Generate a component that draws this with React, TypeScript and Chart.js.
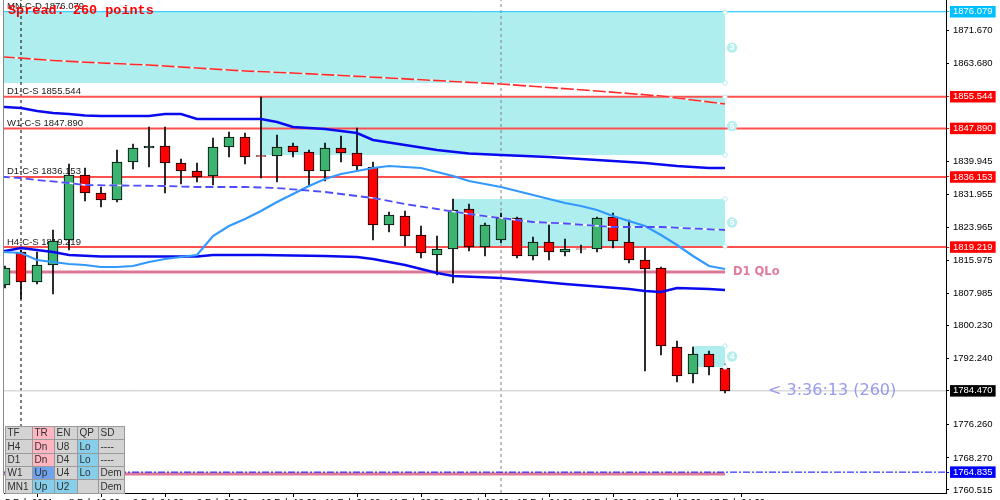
import { useEffect, useRef } from 'react';
import { Chart, registerables } from 'chart.js';

Chart.register(...registerables);

// ---------------- data ----------------
// H4 candles, x = candle index
const opens = [1810.05, 1818.03, 1810.78, 1814.88, 1820.93, 1836.63, 1832.28, 1830.59, 1839.77, 1843.16, 1843.64, 1839.53, 1837.60, 1836.39, 1843.40, 1845.81, 1841.30, 1841.22, 1843.64, 1842.19, 1837.60, 1843.16, 1841.95, 1838.57, 1824.55, 1826.73, 1822.13, 1817.30, 1818.75, 1828.42, 1819.23, 1820.93, 1826.24, 1817.06, 1820.44, 1818.03, 1818.80, 1818.75, 1826.48, 1820.44, 1816.09, 1814.16, 1795.07, 1788.55, 1793.38, 1789.99];
const highs = [1814.64, 1818.51, 1818.03, 1823.34, 1839.29, 1838.32, 1833.73, 1842.67, 1844.12, 1848.23, 1848.23, 1840.50, 1839.53, 1845.57, 1847.02, 1846.78, 1855.48, 1846.30, 1844.36, 1842.67, 1844.36, 1846.06, 1847.99, 1839.77, 1827.69, 1827.93, 1824.31, 1821.89, 1830.83, 1829.62, 1825.03, 1827.45, 1826.48, 1821.65, 1824.55, 1821.17, 1819.72, 1826.48, 1827.45, 1825.76, 1818.99, 1814.40, 1796.52, 1795.07, 1794.10, 1790.96];
const lows = [1809.33, 1806.67, 1810.29, 1807.88, 1818.51, 1830.35, 1828.90, 1830.11, 1838.08, 1838.57, 1832.28, 1834.46, 1834.94, 1834.21, 1840.98, 1839.29, 1835.91, 1834.94, 1840.98, 1834.21, 1835.18, 1839.77, 1837.84, 1820.93, 1822.86, 1819.47, 1816.58, 1812.47, 1810.53, 1818.27, 1817.06, 1820.20, 1816.58, 1816.09, 1816.09, 1817.06, 1817.78, 1818.03, 1818.99, 1815.37, 1789.27, 1793.13, 1786.61, 1786.37, 1788.30, 1783.96];
const closes = [1814.16, 1810.78, 1814.88, 1820.68, 1836.63, 1832.28, 1830.59, 1839.77, 1843.16, 1843.64, 1839.53, 1837.60, 1836.15, 1843.40, 1845.81, 1840.98, 1841.10, 1843.40, 1842.19, 1837.60, 1843.16, 1841.95, 1838.81, 1824.55, 1826.97, 1821.89, 1817.78, 1818.75, 1828.18, 1819.23, 1824.55, 1826.24, 1817.06, 1820.44, 1818.03, 1818.75, 1818.70, 1826.24, 1820.68, 1816.09, 1813.92, 1795.31, 1788.06, 1793.38, 1790.24, 1784.47];

// indicator lines (x = candle index, y = price)
const upperBlueX = [-0.2, 0, 1, 2, 3, 4, 5, 6, 9, 10, 11, 12, 16, 17, 18, 20, 22, 23, 25, 27, 29, 31, 34, 37, 40, 42, 44, 45];
const upperBlueY = [1853.06, 1853.06, 1852.82, 1852.10, 1851.61, 1851.37, 1851.01, 1850.89, 1850.89, 1851.37, 1851.37, 1850.16, 1850.16, 1849.44, 1848.23, 1847.75, 1846.78, 1845.09, 1843.88, 1842.67, 1841.83, 1841.46, 1840.98, 1840.26, 1839.53, 1838.81, 1838.32, 1838.32];

const dashedBlueX = [-0.2, 0, 1, 2, 4, 5, 10, 12, 15, 17, 20, 22, 23, 25, 27, 29, 31, 33, 35, 38, 41, 43, 45];
const dashedBlueY = [1836.15, 1836.15, 1835.91, 1835.42, 1834.70, 1834.21, 1833.97, 1833.73, 1833.73, 1833.49, 1832.53, 1831.56, 1831.07, 1829.62, 1828.42, 1827.21, 1826.24, 1825.28, 1824.91, 1824.07, 1824.07, 1823.70, 1823.34];

const lightBlueY = [1818.03, 1817.78, 1816.09, 1815.61, 1815.12, 1814.88, 1814.40, 1814.40, 1814.64, 1815.61, 1816.33, 1816.82, 1817.30, 1821.89, 1824.31, 1826.00, 1827.93, 1830.11, 1832.04, 1833.97, 1835.66, 1836.88, 1837.60, 1838.32, 1838.81, 1838.57, 1838.32, 1837.36, 1836.39, 1835.18, 1834.46, 1833.73, 1832.77, 1831.80, 1830.83, 1829.87, 1829.14, 1828.18, 1826.73, 1825.52, 1824.31, 1822.13, 1819.72, 1817.06, 1814.64, 1813.92];

const lowerBlueX = [-0.2, 0, 1, 2, 3, 4, 6, 12, 13, 16, 20, 22, 23, 24, 25, 26, 27, 28, 31, 33, 35, 37, 39, 40, 41, 42, 44, 45];
const lowerBlueY = [1818.27, 1818.27, 1818.99, 1818.51, 1818.03, 1817.30, 1816.94, 1816.94, 1817.30, 1817.30, 1817.06, 1816.82, 1816.33, 1815.61, 1814.88, 1813.92, 1812.95, 1812.22, 1811.74, 1811.02, 1810.29, 1809.69, 1809.08, 1808.60, 1808.36, 1809.33, 1809.08, 1808.84];

const redDashedX = [-0.2, 0, 3, 6, 9, 12, 15, 18, 24, 31, 37, 41, 45];
const redDashedY = [1865.15, 1865.15, 1864.30, 1863.70, 1863.21, 1862.49, 1861.76, 1861.28, 1860.07, 1858.62, 1856.93, 1855.72, 1853.79];

// horizontal levels
const mnLevel = 1876.079;
const supplyLevels = [1855.544, 1847.890, 1836.153, 1819.219];
const levelPrefixes = ['MN-C-D', 'D1-C-S', 'W1-C-S', 'D1-C-S', 'H4-C-S'];
const levelValues = [1876.079, 1855.544, 1847.890, 1836.153, 1819.219];
const qloLevels = [1813.19, 1764.40];
const bidLevel = 1784.470;
const lowLevel = 1764.835;
const separators = [1, 31];

// zones
const zoneStart = [-1, 16, 28, 43];
const zoneEnd = [45, 45, 45, 45];
const zoneTop = [1875.95, 1855.45, 1830.83, 1795.31];
const zoneBottom = [1858.86, 1841.46, 1819.48, 1790.24];
const zoneLabels = ['3', '5', '5', '4'];

// axes
const xTickIndex = [0, 4, 8, 12, 16, 20, 24, 28, 32, 36, 40, 44];
const xTickLabels = ['5 Feb 2021', '8 Feb 12:00', '9 Feb 04:00', '9 Feb 20:00', '10 Feb 12:00', '11 Feb 04:00', '11 Feb 20:00', '12 Feb 12:00', '15 Feb 04:00', '15 Feb 20:00', '16 Feb 12:00', '17 Feb 04:00'];
const yTickValues = [1871.670, 1863.680, 1839.945, 1831.955, 1823.965, 1815.975, 1807.985, 1800.230, 1792.240, 1776.260, 1768.270, 1760.515];
const markedValues = [1876.079, 1855.544, 1847.890, 1836.153, 1819.219, 1784.470, 1764.835];
const markedColors = ['#00bfff', '#ff0000', '#ff0000', '#ff0000', '#ff0000', '#000000', '#0000ff'];

// info table
const tableRows = [
  ['TF', 'TR', 'EN', 'QP', 'SD'],
  ['H4', 'Dn', 'U8', 'Lo', '----'],
  ['D1', 'Dn', 'D4', 'Lo', '----'],
  ['W1', 'Up', 'U4', 'Lo', 'Dem'],
  ['MN1', 'Up', 'U2', '', 'Dem'],
];
const G = '#d3d3d3', P = '#ffb6c1', S = '#87ceeb', C = '#6fa3ef';
const tableColors = [
  [G, P, G, G, G],
  [G, P, G, S, G],
  [G, P, G, S, G],
  [G, C, G, S, G],
  [G, S, S, G, G],
];

const spreadText = 'Spread: 260 points';
const timerText = '< 3:36:13 (260)';
const qloText = 'D1 QLo';

const X_MIN = -0.0625, X_MAX = 58.8125;
const Y_MIN = 1759.79, Y_MAX = 1878.92;
const FONT = "'Liberation Sans', Arial, sans-serif";

const pts = (xs: number[], ys: number[]) => xs.map((x, k) => ({ x, y: ys[k] }));

export default function App() {
  const ref = useRef<HTMLCanvasElement | null>(null);

  useEffect(() => {
    const canvas = ref.current;
    if (!canvas) return;

    const hline = (v: number, color: string, width: number, x1 = X_MAX, dash: number[] = [], order = 5) => ({
      type: 'line' as const,
      data: [{ x: -1, y: v }, { x: x1, y: v }],
      borderColor: color,
      borderWidth: width,
      borderDash: dash,
      pointRadius: 0,
      order,
    });
    const vline = (xv: number, color: string) => ({
      type: 'line' as const,
      data: [{ x: xv, y: Y_MIN }, { x: xv, y: Y_MAX }],
      borderColor: color,
      borderWidth: 1,
      borderDash: [3, 3],
      pointRadius: 0,
      order: 6,
    });
    const maLine = (data: any[], color: string, width: number, dash: number[] = [], order = 0) => ({
      type: 'line' as const,
      data,
      borderColor: color,
      borderWidth: width,
      borderDash: dash,
      pointRadius: 0,
      tension: 0,
      order,
    });

    const candleIdx = opens.map((_, i) => i);

    const datasets: any[] = [
      vline(separators[0], '#000000'),
      vline(separators[1], '#808080'),
      hline(mnLevel, '#00bfff', 1),
      ...supplyLevels.map((v) => hline(v, '#ff5050', 2)),
      hline(qloLevels[0], '#dc7896', 3, 45),
      hline(qloLevels[1], '#dc7896', 3, 45),
      hline(lowLevel, '#0000ff', 1, X_MAX, [7, 2, 2, 2], 4),
      hline(bidLevel, '#c8c8c8', 1),
      {
        type: 'bar',
        data: candleIdx.map((i) => ({ x: i, y: [lows[i], highs[i]] })),
        backgroundColor: '#000000',
        barThickness: 1,
        grouped: false,
        order: 3,
      },
      {
        type: 'bar',
        data: candleIdx.map((i) => ({ x: i, y: [opens[i], closes[i]] })),
        backgroundColor: candleIdx.map((i) => (closes[i] > opens[i] ? '#3cb371' : '#ff0000')),
        borderColor: '#000000',
        borderWidth: 1,
        borderSkipped: false,
        barThickness: 10,
        grouped: false,
        order: 2,
      },
      maLine(pts(redDashedX, redDashedY), '#ffffff', 1.5, [], 1),
      maLine(pts(redDashedX, redDashedY), '#ff2a2a', 1.6, [13, 3], 0),
      maLine(pts(upperBlueX, upperBlueY), '#0a0af0', 2.6),
      maLine(pts(dashedBlueX, dashedBlueY), '#ffffff', 1.5, [], 1),
      maLine(pts(dashedBlueX, dashedBlueY), '#4d4dff', 1.8, [8, 4], 0),
      maLine(pts([-0.2, ...candleIdx], [lightBlueY[0], ...lightBlueY]), '#3399ff', 2.2),
      maLine(pts(lowerBlueX, lowerBlueY), '#0a0af0', 2.4),
    ];

    const markedColorOf = (v: number) => {
      const k = markedValues.findIndex((m) => Math.abs(m - v) < 1e-6);
      return k >= 0 ? markedColors[k] : null;
    };

    const backgroundPlugin = {
      id: 'bgLayer',
      beforeDatasetsDraw(chart: any) {
        const { ctx, chartArea, scales } = chart;
        const x = scales.x, y = scales.y;
        ctx.save();
        ctx.beginPath();
        ctx.rect(chartArea.left, chartArea.top, chartArea.right - chartArea.left, chartArea.bottom - chartArea.top);
        ctx.clip();
        zoneStart.forEach((_, k) => {
          const x0 = x.getPixelForValue(zoneStart[k]);
          const x1 = x.getPixelForValue(zoneEnd[k]);
          const y0 = y.getPixelForValue(zoneTop[k]);
          const y1 = y.getPixelForValue(zoneBottom[k]);
          ctx.fillStyle = '#afeeee';
          ctx.fillRect(x0, y0, x1 - x0, y1 - y0);
        });
        ctx.fillStyle = '#202020';
        ctx.font = `9.5px ${FONT}`;
        ctx.textAlign = 'left';
        ctx.textBaseline = 'alphabetic';
        levelValues.forEach((v, k) => {
          const py = y.getPixelForValue(v);
          ctx.fillText(`${levelPrefixes[k]} ${v.toFixed(3)}`, 7, py - 2.5);
        });
        ctx.restore();
      },
      afterDatasetsDraw(chart: any) {
        const { ctx, scales } = chart;
        const x = scales.x, y = scales.y;
        ctx.save();
        zoneStart.forEach((_, k) => {
          const px = x.getPixelForValue(zoneEnd[k]);
          const yt = y.getPixelForValue(zoneTop[k]);
          const yb = y.getPixelForValue(zoneBottom[k]);
          ctx.strokeStyle = '#b4eeee';
          ctx.fillStyle = '#ffffff';
          ctx.lineWidth = 1;
          [yt, yb].forEach((py) => {
            ctx.beginPath();
            ctx.arc(px, py, 2.2, 0, Math.PI * 2);
            ctx.fill();
            ctx.stroke();
          });
          const cy = (yt + yb) / 2;
          ctx.beginPath();
          ctx.arc(px + 7, cy, 5.2, 0, Math.PI * 2);
          ctx.fillStyle = '#b4eeee';
          ctx.fill();
          ctx.fillStyle = '#ffffff';
          ctx.font = `bold 8.5px ${FONT}`;
          ctx.textAlign = 'center';
          ctx.textBaseline = 'middle';
          ctx.fillText(zoneLabels[k], px + 7, cy + 0.5);
        });
        ctx.font = `bold 11.5px 'DejaVu Sans', sans-serif`;
        ctx.fillStyle = '#e07b9b';
        ctx.textAlign = 'left';
        ctx.textBaseline = 'middle';
        ctx.fillText(qloText, x.getPixelForValue(45) + 8, y.getPixelForValue(qloLevels[0]));
        ctx.font = `16px 'DejaVu Sans', sans-serif`;
        ctx.fillStyle = '#9a9af0';
        ctx.fillText(timerText, x.getPixelForValue(45) + 43, y.getPixelForValue(bidLevel));
        ctx.restore();
      },
      afterDraw(chart: any) {
        const { ctx, chartArea } = chart;
        ctx.save();
        ctx.fillStyle = '#8a8a8a';
        ctx.fillRect(chartArea.left - 1, 0, 1, chartArea.bottom);
        const colX = [5, 32, 54, 77, 98, 124];
        const rowY = [426, 439, 453, 466, 479, 493];
        ctx.font = `10px ${FONT}`;
        ctx.textAlign = 'left';
        ctx.textBaseline = 'middle';
        tableRows.forEach((row, r) => {
          row.forEach((txt, c) => {
            ctx.fillStyle = tableColors[r][c];
            ctx.fillRect(colX[c], rowY[r], colX[c + 1] - colX[c], rowY[r + 1] - rowY[r]);
            ctx.strokeStyle = '#9a9a9a';
            ctx.lineWidth = 1;
            ctx.strokeRect(colX[c] + 0.5, rowY[r] + 0.5, colX[c + 1] - colX[c], rowY[r + 1] - rowY[r]);
            ctx.fillStyle = '#303030';
            ctx.fillText(txt, colX[c] + 2.5, (rowY[r] + rowY[r + 1]) / 2 + 1);
          });
        });
        ctx.font = `bold 13.5px 'Liberation Mono', 'Courier New', monospace`;
        ctx.fillStyle = '#ff0000';
        ctx.textBaseline = 'alphabetic';
        ctx.fillText(spreadText, 8, 13.5);
        ctx.restore();
      },
    };

    const chart = new Chart(canvas, {
      type: 'line',
      data: { datasets },
      options: {
        animation: false,
        responsive: false,
        events: [],
        layout: { padding: { left: 4, right: 0, top: 0, bottom: 0 } },
        plugins: { legend: { display: false }, tooltip: { enabled: false } },
        scales: {
          x: {
            type: 'linear',
            min: X_MIN,
            max: X_MAX,
            offset: false,
            position: 'bottom',
            afterBuildTicks: (s: any) => {
              s.ticks = xTickIndex.map((v) => ({ value: v }));
            },
            afterFit: (s: any) => {
              s.height = 7;
              s.paddingLeft = 0;
              s.paddingRight = 0;
              s.paddingTop = 0;
              s.paddingBottom = 0;
            },
            grid: { drawOnChartArea: false, drawTicks: true, tickLength: 4, color: '#000000' },
            border: { display: true, color: '#000000' },
            ticks: {
              autoSkip: false,
              maxRotation: 0,
              minRotation: 0,
              padding: 0,
              align: 'start',
              color: '#000000',
              font: { family: FONT, size: 9.5 },
              callback: (_v: any, idx: number) => xTickLabels[idx],
            },
          },
          y: {
            type: 'linear',
            min: Y_MIN,
            max: Y_MAX,
            position: 'right',
            afterBuildTicks: (s: any) => {
              s.ticks = [...yTickValues, ...markedValues].sort((a, b) => b - a).map((v) => ({ value: v }));
            },
            afterFit: (s: any) => {
              s.width = 54;
              s.paddingTop = 0;
              s.paddingBottom = 0;
              s.paddingLeft = 0;
              s.paddingRight = 0;
            },
            grid: {
              drawOnChartArea: false,
              drawTicks: true,
              tickLength: 3,
              color: (c: any) => (c.tick ? markedColorOf(c.tick.value) || '#000000' : '#000000'),
            },
            border: { display: true, color: '#000000' },
            ticks: {
              autoSkip: false,
              padding: 4,
              font: { family: FONT, size: 9.5, lineHeight: 1 },
              color: (c: any) => (c.tick && markedColorOf(c.tick.value) ? '#ffffff' : '#000000'),
              showLabelBackdrop: true,
              backdropColor: (c: any) => (c.tick ? markedColorOf(c.tick.value) || 'rgba(0,0,0,0)' : 'rgba(0,0,0,0)'),
              backdropPadding: { left: 3, right: 3, top: 1, bottom: 1 },
              callback: (v: any) => Number(v).toFixed(3),
            },
          },
        },
      },
      plugins: [backgroundPlugin],
    } as any);

    return () => chart.destroy();
  }, []);

  return (
    <div style={{ position: 'absolute', left: 0, top: 0, width: 1000, height: 500, background: '#ffffff' }}>
      <canvas ref={ref} width={1000} height={500} style={{ display: 'block' }} />
    </div>
  );
}
